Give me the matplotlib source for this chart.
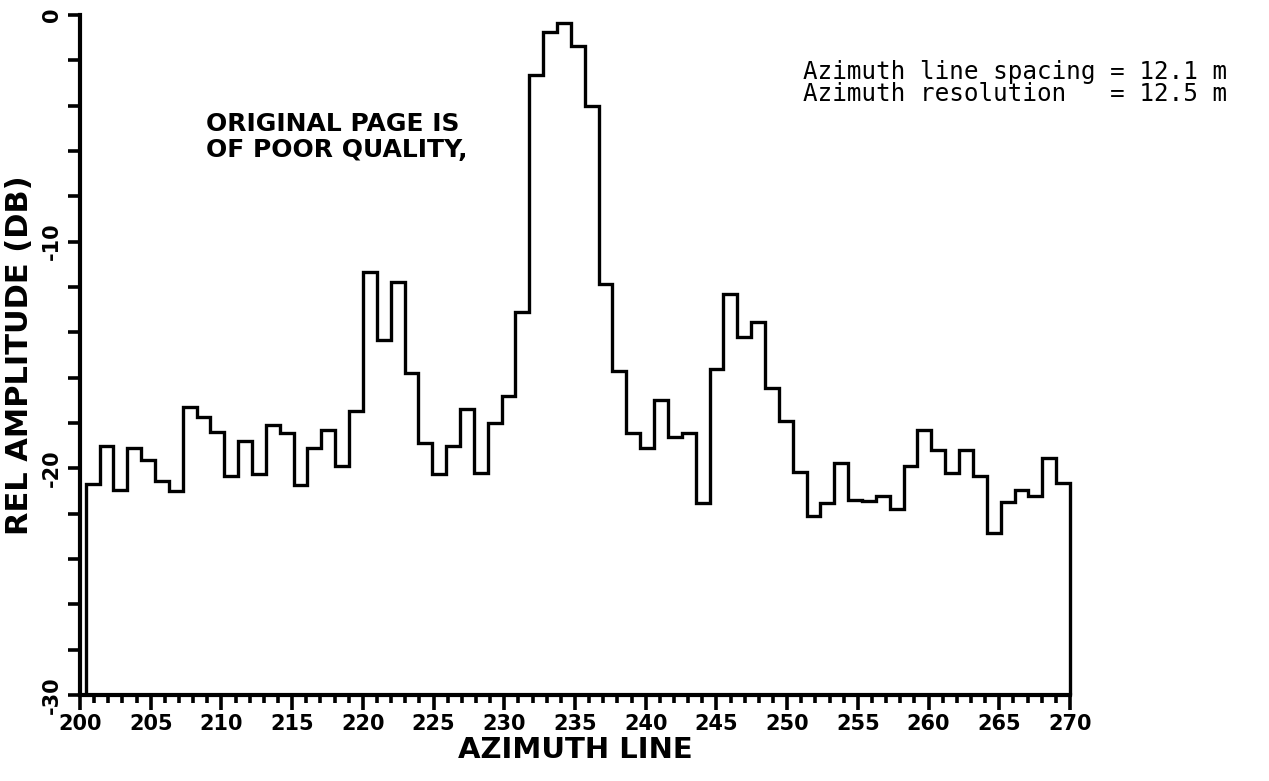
import numpy as np
import matplotlib
matplotlib.use("Agg")
import matplotlib.pyplot as plt
from matplotlib.ticker import MultipleLocator

# relative amplitude (dB) for azimuth lines 200 .. 270
lines = np.arange(200, 271)
rel_amp_db = [
    -20.7, -19.0, -20.95, -19.1, -19.65, -20.55, -21.0, -17.3, -17.75, -18.4,   # 200-209
    -20.35, -18.8, -20.25, -18.1, -18.45, -20.75, -19.1, -18.3, -19.9, -17.45,  # 210-219
    -11.35, -14.35, -11.8, -15.8, -18.9, -20.25, -19.0, -17.4, -20.2, -18.0,    # 220-229
    -16.8, -13.1, -2.65, -0.75, -0.35, -1.35, -4.0, -11.85, -15.7, -18.45,      # 230-239
    -19.1, -17.0, -18.6, -18.45, -21.55, -15.6, -12.3, -14.2, -13.55, -16.45,   # 240-249
    -17.9, -20.15, -22.1, -21.55, -19.75, -21.4, -21.45, -21.2, -21.8, -19.9,   # 250-259
    -18.3, -19.2, -20.2, -19.2, -20.35, -22.85, -21.5, -20.95, -21.2, -19.55,   # 260-269
    -20.65,                                                                     # 270
]

x_ticks = np.arange(200, 271, 5)
y_ticks = [0, -10, -20, -30]
y_ticklabels = ["0", "-10", "-20", "-30"]

note_lines = ["Azimuth line spacing = 12.1 m",
              "Azimuth resolution   = 12.5 m"]
stamp_lines = ["ORIGINAL PAGE IS", "OF POOR QUALITY,"]

plt.rcParams["font.family"] = "DejaVu Sans"

W, H = 1269, 781
fig = plt.figure(figsize=(W / 100, H / 100), dpi=100)
ax = fig.add_axes([80 / W, 1 - 695 / H, 990 / W, 680 / H])

# plotter draws each line as a bin, starting a little past the axis
edges = np.linspace(lines[0] + 0.4, lines[-1], len(lines) + 1)
ax.stairs(rel_amp_db, edges, baseline=-30, color="black", lw=2.4, clip_on=False)

ax.set_xlim(200, 270)
ax.set_ylim(-30, 0)
for side in ["top", "right"]:
    ax.spines[side].set_visible(False)
for side in ["left", "bottom"]:
    ax.spines[side].set_linewidth(3)

ax.set_xticks(x_ticks)
ax.xaxis.set_minor_locator(MultipleLocator(1))
ax.set_yticks(y_ticks)
ax.set_yticklabels(y_ticklabels, rotation=90, va="center")
ax.yaxis.set_minor_locator(MultipleLocator(2))

ax.tick_params(axis="x", which="major", length=11, width=2.6, pad=3, labelsize=15)
ax.tick_params(axis="x", which="minor", length=6, width=2.6)
ax.tick_params(axis="y", which="both", length=9, width=2.6, pad=4, labelsize=15)
for lbl in ax.get_xticklabels() + ax.get_yticklabels():
    lbl.set_fontweight("bold")

ax.set_xlabel("AZIMUTH LINE", fontsize=21, fontweight="bold", labelpad=1)
ax.set_ylabel("REL AMPLITUDE (DB)", fontsize=22, fontweight="bold", labelpad=6)

# stamp and scan notes
fig.text(206 / W, 1 - 131 / H, stamp_lines[0], fontsize=18, fontweight="bold",
         va="baseline")
fig.text(206 / W, 1 - 157 / H, stamp_lines[1], fontsize=18, fontweight="bold",
         va="baseline")
fig.text(803 / W, 1 - 83 / H, "\n".join(note_lines), fontsize=17.5,
         family="DejaVu Sans Mono", va="center", linespacing=0.88)

fig.savefig("out.png", dpi=100, facecolor="white")
